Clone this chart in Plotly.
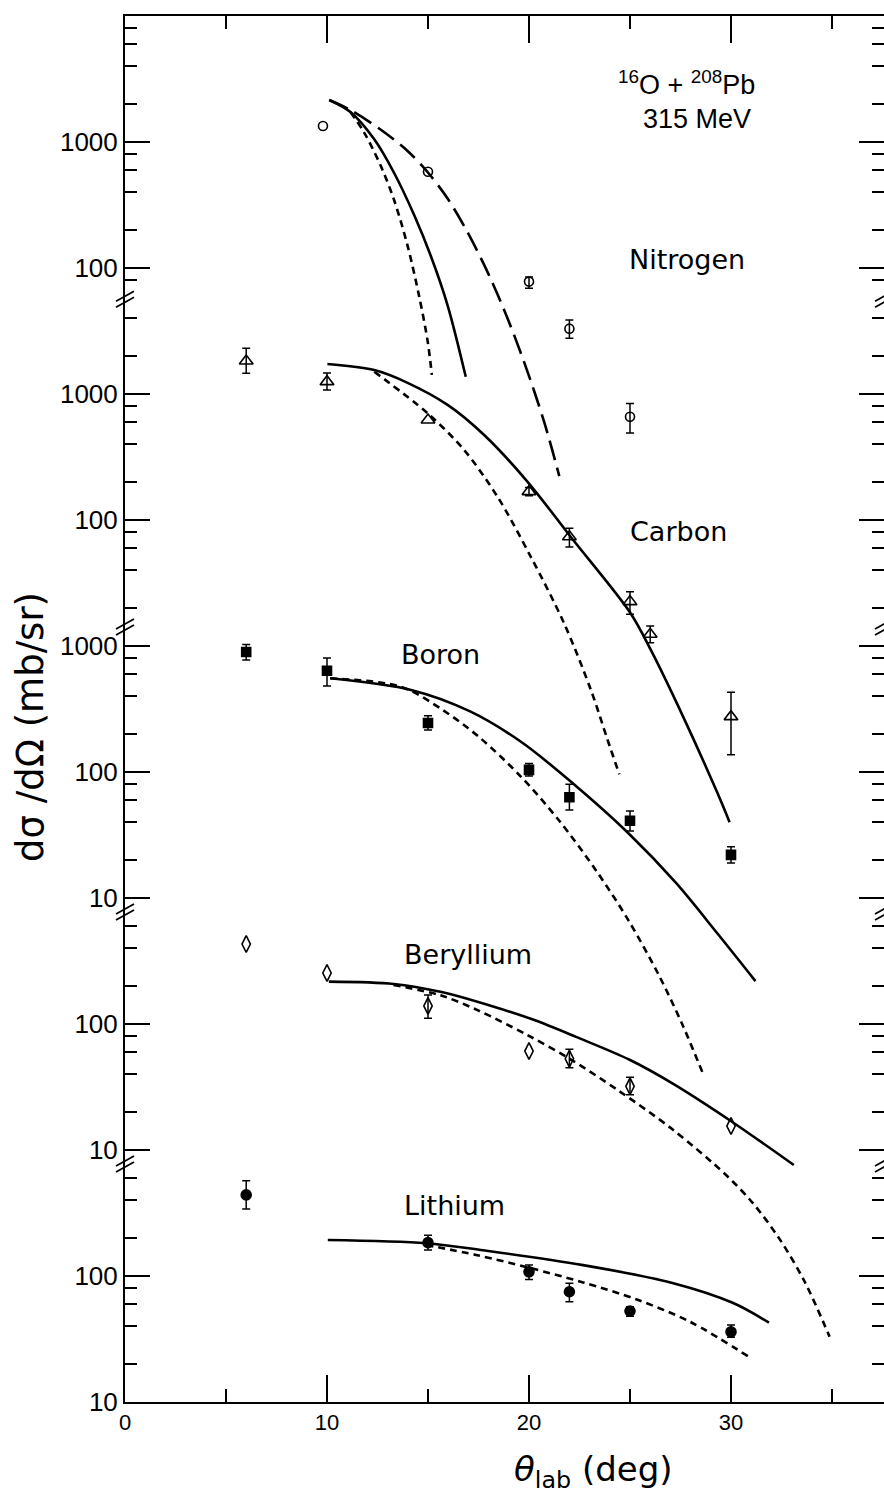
import numpy as np
import plotly.graph_objects as go

# ---------------- axis structure (broken log axis, one panel per ejectile) ----------------
panel_names = ["Lithium", "Beryllium", "Boron", "Carbon", "Nitrogen"]
panel_offsets = [0, 2, 4, 6, 8]          # decades each panel is lifted on the stacked axis

li_major = [10, 100]
be_major = [10, 100]
b_major = [10, 100, 1000]
c_major = [100, 1000]
n_major = [100, 1000]

li_minor = [20, 40, 60, 80, 200, 400, 600]
be_minor = [20, 40, 60, 80, 200, 400, 600]
b_minor = [20, 40, 60, 80, 200, 400, 600, 800]
c_minor = [20, 40, 60, 80, 200, 400, 600, 800, 2000, 4000]
n_minor = [80, 200, 400, 600, 800, 2000, 4000, 6000, 8000]

x_major = [0, 10, 20, 30]
x_minor = [5, 15, 25, 35]

# ---------------- measured cross sections (mb/sr) ----------------
n_theta = [9.8, 15, 20, 22, 25]
n_val = [1340, 581, 78, 33, 6.6]
n_hi = [1340, 581, 85, 38.6, 8.4]
n_lo = [1340, 581, 69, 27.7, 4.9]

c_theta = [6, 10, 15, 20, 22, 25, 26, 30]
c_val = [1828, 1253, 622, 168, 73.6, 22.5, 12.4, 2.75]
c_hi = [2310, 1466, 622, 181, 86, 27, 14.4, 4.3]
c_lo = [1460, 1076, 622, 156, 61, 17.9, 10.6, 1.37]

b_theta = [6, 10, 15, 20, 22, 25, 30]
b_val = [895, 637, 245, 104, 63, 41, 22]
b_hi = [1030, 803, 280, 117, 80, 49, 25.5]
b_lo = [775, 482, 215, 93, 50, 34, 19]

be_theta = [6, 10, 15, 20, 22, 25, 30]
be_val = [431, 254, 139, 61, 53, 32, 15.5]
be_hi = [431, 254, 170, 61, 63, 37.8, 15.5]
be_lo = [431, 254, 111, 61, 45, 27.4, 15.5]

li_theta = [6, 15, 20, 22, 25, 30]
li_val = [440, 184, 108, 75, 52.7, 36]
li_hi = [570, 211, 122, 87.5, 57, 40.8]
li_lo = [340, 161, 94, 62.5, 48, 32.6]

# ---------------- calculated curves ----------------
n_long_theta = [10.11, 11.16, 12.65, 13.99, 15.06, 15.97, 16.79, 17.78, 18.77, 19.76, 20.75, 21.50]
n_long_val = [2153, 1795, 1256, 849, 557, 356, 215, 106, 46.4, 17.9, 6.0, 2.23]
n_solid_theta = [10.11, 11.16, 12.34, 13.33, 14.32, 15.14, 15.97, 16.87]
n_solid_val = [2153, 1730, 1050, 565, 262, 124.5, 50.6, 13.7]
n_short_theta = [11.16, 11.84, 12.66, 13.33, 13.99, 14.56, 14.98, 15.19]
n_short_val = [1730, 1188, 647, 343, 150, 59.8, 26.4, 14.2]

c_solid_theta = [10.02, 12.34, 13.99, 15.97, 17.78, 19.93, 22.07, 25.02, 26.03, 27.68, 29.33, 29.93]
c_solid_val = [1730, 1549, 1227, 820, 473, 201, 73.3, 18.3, 9.3, 2.64, 0.68, 0.40]
c_short_theta = [12.34, 14.98, 16.79, 18.44, 20.09, 21.74, 23.06, 23.89, 24.47]
c_short_val = [1503, 703, 359, 153, 51, 15.1, 4.5, 1.8, 0.96]

b_solid_theta = [10.16, 14.16, 17.06, 19.62, 22.18, 24.91, 27.29, 29.34, 31.21]
b_solid_val = [554, 448, 304, 173, 81, 32.8, 13.1, 5.2, 2.19]
b_short_theta = [10.16, 13.65, 15.70, 17.57, 19.62, 21.50, 23.37, 24.91, 26.44, 27.63, 28.65]
b_short_val = [554, 475, 313, 187, 91.2, 41, 16.1, 6.7, 2.42, 0.96, 0.39]

be_solid_theta = [10.09, 13.31, 15.61, 18.26, 20.30, 22.33, 24.98, 27.10, 29.99, 33.11]
be_solid_val = [217, 208, 180, 137, 107, 79, 52, 33.8, 17, 7.6]
be_short_theta = [13.29, 15.62, 17.40, 19.88, 21.96, 24.43, 27.10, 29.77, 31.11, 32.40, 33.64, 34.88]
be_short_val = [204, 169, 130, 82.4, 53.6, 29.6, 14.6, 6.3, 3.74, 1.97, 0.905, 0.33]

li_solid_theta = [10.04, 14.91, 17.73, 22.68, 27.10, 30.11, 31.88]
li_solid_val = [193, 182, 160, 122, 88, 61, 42.6]
li_short_theta = [14.91, 17.38, 20.03, 22.68, 25.34, 27.99, 31.0]
li_short_val = [176, 147, 116, 89, 65, 43.2, 22.2]

# ---------------- helpers ----------------
def lift(vals, off):
    return [float(np.log10(v)) + off for v in vals]

BLACK = "black"
SHORT = "7px,5px"
LONG = "20px,8px"

fig = go.Figure()


def add_points(theta, val, hi, lo, off, symbol, size, lw=1.6):
    yv = lift(val, off)
    yh = lift(hi, off)
    yl = lift(lo, off)
    with_err = [i for i in range(len(val)) if hi[i] > val[i] or lo[i] < val[i]]
    no_err = [i for i in range(len(val)) if i not in with_err]
    marker = dict(symbol=symbol, size=size, color=BLACK, line=dict(color=BLACK, width=lw))
    if with_err:
        fig.add_trace(go.Scatter(
            x=[theta[i] for i in with_err], y=[yv[i] for i in with_err], mode="markers",
            marker=marker, showlegend=False, cliponaxis=False,
            error_y=dict(type="data", symmetric=False,
                         array=[yh[i] - yv[i] for i in with_err],
                         arrayminus=[yv[i] - yl[i] for i in with_err],
                         color=BLACK, thickness=1.5, width=4)))
    if no_err:
        fig.add_trace(go.Scatter(
            x=[theta[i] for i in no_err], y=[yv[i] for i in no_err], mode="markers",
            marker=marker, showlegend=False, cliponaxis=False))


def add_curve(theta, val, off, dash):
    fig.add_trace(go.Scatter(
        x=theta, y=lift(val, off), mode="lines", showlegend=False,
        line=dict(color=BLACK, width=2.6, dash=dash, shape="spline", smoothing=0.9)))


off = dict(zip(panel_names, panel_offsets))

# curves
add_curve(n_long_theta, n_long_val, off["Nitrogen"], LONG)
add_curve(n_solid_theta, n_solid_val, off["Nitrogen"], "solid")
add_curve(n_short_theta, n_short_val, off["Nitrogen"], SHORT)
add_curve(c_solid_theta, c_solid_val, off["Carbon"], "solid")
add_curve(c_short_theta, c_short_val, off["Carbon"], SHORT)
add_curve(b_solid_theta, b_solid_val, off["Boron"], "solid")
add_curve(b_short_theta, b_short_val, off["Boron"], SHORT)
add_curve(be_solid_theta, be_solid_val, off["Beryllium"], "solid")
add_curve(be_short_theta, be_short_val, off["Beryllium"], SHORT)
add_curve(li_solid_theta, li_solid_val, off["Lithium"], "solid")
add_curve(li_short_theta, li_short_val, off["Lithium"], SHORT)

# points
add_points(n_theta, n_val, n_hi, n_lo, off["Nitrogen"], "circle-open", 9)
add_points(c_theta, c_val, c_hi, c_lo, off["Carbon"], "triangle-up-open", 12)
add_points(b_theta, b_val, b_hi, b_lo, off["Boron"], "square", 9)
add_points(be_theta, be_val, be_hi, be_lo, off["Beryllium"], "diamond-tall-open", 12)
add_points(li_theta, li_val, li_hi, li_lo, off["Lithium"], "circle", 10)

# ---------------- broken log y axis ticks ----------------
majors = [li_major, be_major, b_major, c_major, n_major]
minors = [li_minor, be_minor, b_minor, c_minor, n_minor]
ytickvals, yticktext, yminor = [], [], []
for o, maj, mnr in zip(panel_offsets, majors, minors):
    for v in maj:
        ytickvals.append(np.log10(v) + o)
        yticktext.append(str(v))
    for v in mnr:
        yminor.append(np.log10(v) + o)

# break positions: between the lowest tick of a panel and the highest tick of the one below
breaks = []
for k in range(1, len(panel_names)):
    low_upper = min(np.log10(v) + panel_offsets[k] for v in majors[k] + minors[k])
    high_lower = max(np.log10(v) + panel_offsets[k - 1] for v in majors[k - 1] + minors[k - 1])
    breaks.append(0.5 * (low_upper + high_lower))

W, H = 884, 1503
L, R, T, B = 125, 0, 16, 101
deg_px = 20.2
x_max = (W - L - R) / deg_px

TICKFONT = "Liberation Sans, Arial, sans-serif"
LABFONT = "DejaVu Sans, Verdana, sans-serif"

fig.update_layout(
    width=W, height=H,
    margin=dict(l=L, r=R, t=T, b=B, autoexpand=False),
    paper_bgcolor="white", plot_bgcolor="white",
    showlegend=False,
    xaxis=dict(range=[0, x_max], tickvals=x_major, ticktext=[str(v) for v in x_major],
               ticks="inside", ticklen=27, tickwidth=1.5, tickcolor=BLACK,
               showline=True, linewidth=2, linecolor=BLACK, mirror="ticks",
               showgrid=False, zeroline=False,
               tickfont=dict(family=TICKFONT, size=22, color=BLACK),
               minor=dict(tickvals=x_minor, ticks="inside", ticklen=13, tickwidth=1.5,
                          tickcolor=BLACK, showgrid=False)),
    yaxis=dict(range=[1, 12], tickvals=ytickvals, ticktext=yticktext,
               ticks="inside", ticklen=25, tickwidth=1.5, tickcolor=BLACK,
               showline=True, linewidth=2, linecolor=BLACK, mirror="ticks",
               showgrid=False, zeroline=False,
               tickfont=dict(family=TICKFONT, size=26, color=BLACK),
               minor=dict(tickvals=yminor, ticks="inside", ticklen=12, tickwidth=1.5,
                          tickcolor=BLACK, showgrid=False)),
)

# break marks "//" on both vertical axes
for yb in breaks:
    for xa in (0, 1):
        for dy in (-3, 3):
            fig.add_shape(type="line", xref="paper", yref="y",
                          xsizemode="pixel", ysizemode="pixel",
                          xanchor=xa, yanchor=yb,
                          x0=-9, x1=9, y0=dy - 5, y1=dy + 5,
                          line=dict(color=BLACK, width=1.8))

# element labels
label_pos = {"Nitrogen": (27.8, 10.07), "Carbon": (27.4, 7.91), "Boron": (15.6, 6.93),
             "Beryllium": (17.0, 4.55), "Lithium": (16.3, 2.56)}
for name in panel_names:
    x, y = label_pos[name]
    fig.add_annotation(x=x, y=y, xref="x", yref="y", text=name, showarrow=False,
                       xanchor="center", yanchor="middle",
                       font=dict(family=LABFONT, size=27, color=BLACK))

# reaction title
fig.add_annotation(x=27.8, y=11.47, xref="x", yref="y",
                   text="<sup>16</sup>O + <sup>208</sup>Pb", showarrow=False,
                   xanchor="center", yanchor="middle",
                   font=dict(family=TICKFONT, size=27, color=BLACK))
fig.add_annotation(x=28.3, y=11.18, xref="x", yref="y", text="315 MeV", showarrow=False,
                   xanchor="center", yanchor="middle",
                   font=dict(family=TICKFONT, size=27, color=BLACK))

# axis titles
fig.add_annotation(x=23.2, y=-0.05, xref="x", yref="paper",
                   text="<i>θ</i><sub>lab</sub> (deg)", showarrow=False,
                   xanchor="center", yanchor="middle",
                   font=dict(family=LABFONT, size=34, color=BLACK))
fig.add_annotation(x=(30 - L) / (W - L - R), y=1 + (1402 - 727) / 126, xref="paper", yref="y",
                   text="dσ /dΩ (mb/sr)", textangle=-90, showarrow=False,
                   xanchor="center", yanchor="middle",
                   font=dict(family=LABFONT, size=37, color=BLACK))

fig.write_html("out.html", config={"displayModeBar": False},
               post_script="document.body.style.margin='0px';"
                           "document.body.style.overflow='hidden';")
